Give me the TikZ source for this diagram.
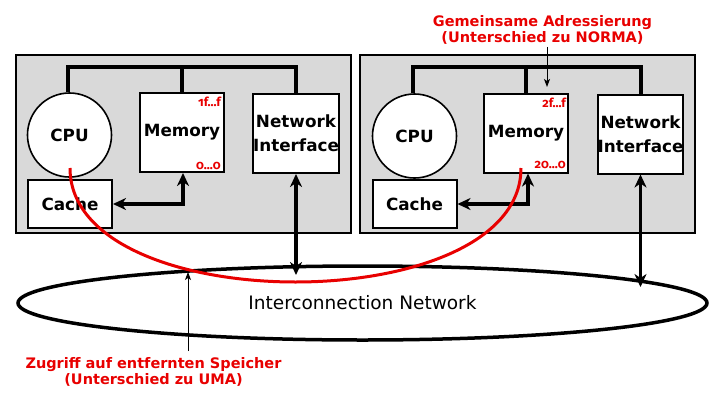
\documentclass[tikz,border=0pt]{standalone}
\usepackage{fontspec}
\setmainfont{DejaVu Sans}
\newfontfamily\addrfont[Numbers=OldStyle]{Fira Sans}
\usetikzlibrary{shapes.geometric,arrows.meta,calc}
\definecolor{annred}{RGB}{232,0,0}
\definecolor{panelgray}{RGB}{217,217,217}
\tikzset{
  panel/.style={draw, line width=2pt, fill=panelgray, minimum width=335pt, minimum height=178pt, inner sep=0pt},
  unitbox/.style={draw, line width=2pt, fill=white, minimum width=84pt, minimum height=79pt, inner sep=0pt, align=center,
    font=\bfseries\fontsize{16.8}{24}\selectfont},
  cachebox/.style={unitbox, minimum height=48pt},
  cpucircle/.style={draw, circle, line width=1.6pt, fill=white, minimum size=84pt, inner sep=0pt,
    font=\bfseries\fontsize{16.8}{19}\selectfont},
  bus/.style={line width=4pt},
  bigarrow/.style={line width=3.5pt, >={Stealth[length=13pt,width=12pt,inset=4pt]}},
  addr/.style={text=annred, inner sep=0pt, font=\addrfont\bfseries\fontsize{12.5}{13}\selectfont},
  anntext/.style={text=annred, align=center, inner sep=0pt, font=\bfseries\fontsize{14.5}{16.5}\selectfont},
  thinarrow/.style={line width=1pt, -{Stealth[length=8pt,width=6pt,inset=2pt]}},
  redcurve/.style={draw=annred, line width=3pt},
}
\begin{document}
\begin{tikzpicture}[x=1pt,y=-1pt]
\useasboundingbox (0,0) rectangle (718,410);

% panels
\node[panel] (p1) at (183.5,144) {};
\node[panel] (p2) at (527.5,144) {};

% left node
\node[cpucircle] (cpu1) at (69.5,135) {CPU};
\node[unitbox] (mem1) at (182,132.5) {Memory};
\node[unitbox] (ni1) at (296,133.5) {Network\\Interface};
\node[cachebox] (cache1) at (70,204) {Cache};
\node[addr, anchor=north east] (a1t) at ([xshift=-4pt,yshift=-5pt]mem1.north east) {1f...f};
\node[addr, anchor=base east] (a1b) at ([xshift=-4pt,yshift=4pt]mem1.south east) {0...0};

% right node
\node[cpucircle] (cpu2) at (414.5,136) {CPU};
\node[unitbox] (mem2) at (526,133) {Memory};
\node[unitbox] (ni2) at (640.5,134) {Network\\Interface};
\node[cachebox] (cache2) at (414.5,204) {Cache};
\node[addr, anchor=north east] (a2t) at ([xshift=-3pt,yshift=-5pt]mem2.north east) {2f...f};
\node[addr, anchor=base east] (a2b) at ([xshift=-3pt,yshift=5pt]mem2.south east) {20...0};

% buses
\coordinate (bus) at (0,66.7);
\draw[bus] ([xshift=-1.5pt]cpu1.north) -- ([xshift=-1.5pt]cpu1.north |- bus) -| (ni1.north);
\draw[bus] (mem1.north) -- (mem1.north |- bus);
\draw[bus] ([xshift=-1.5pt]cpu2.north) -- ([xshift=-1.5pt]cpu2.north |- bus) -| (ni2.north);
\draw[bus] (mem2.north) -- (mem2.north |- bus);

% cache <-> memory
\draw[bigarrow, <->] (cache1.east) -| ([xshift=1pt]mem1.south);
\draw[bigarrow, <->] (cache2.east) -| ([xshift=2pt]mem2.south);

% interconnection network
\node[draw, ellipse, line width=3.5pt, minimum width=689pt, minimum height=74pt, inner sep=0pt,
  font=\fontsize{18.5}{22}\selectfont] (net) at (362.5,303) {Interconnection Network};

% NI <-> network
\coordinate (t1) at (296,275);
\coordinate (t2) at (640.5,287);
\draw[bigarrow, <->] (ni1.south) -- (t1);
\draw[bigarrow, <->] (ni2.south) -- (t2);

% remote access curve
\coordinate (r1) at (70,168);
\coordinate (r2) at (521,168);
\draw[redcurve] (r1) .. controls (70,320) and (521,320) .. (r2);

% annotations
\node[anntext] (gem) at (542.5,30) {Gemeinsame Adressierung\\(Unterschied zu NORMA)};
\coordinate (g1) at (547,87);
\draw[thinarrow] ([yshift=-2pt]g1 |- gem.south) -- (g1);

\node[anntext] (zug) at (153.5,372) {Zugriff auf entfernten Speicher\\(Unterschied zu UMA)};
\coordinate (z1) at (188,272);
\draw[thinarrow] ([yshift=6pt]z1 |- zug.north) -- (z1);
\end{tikzpicture}
\end{document}
